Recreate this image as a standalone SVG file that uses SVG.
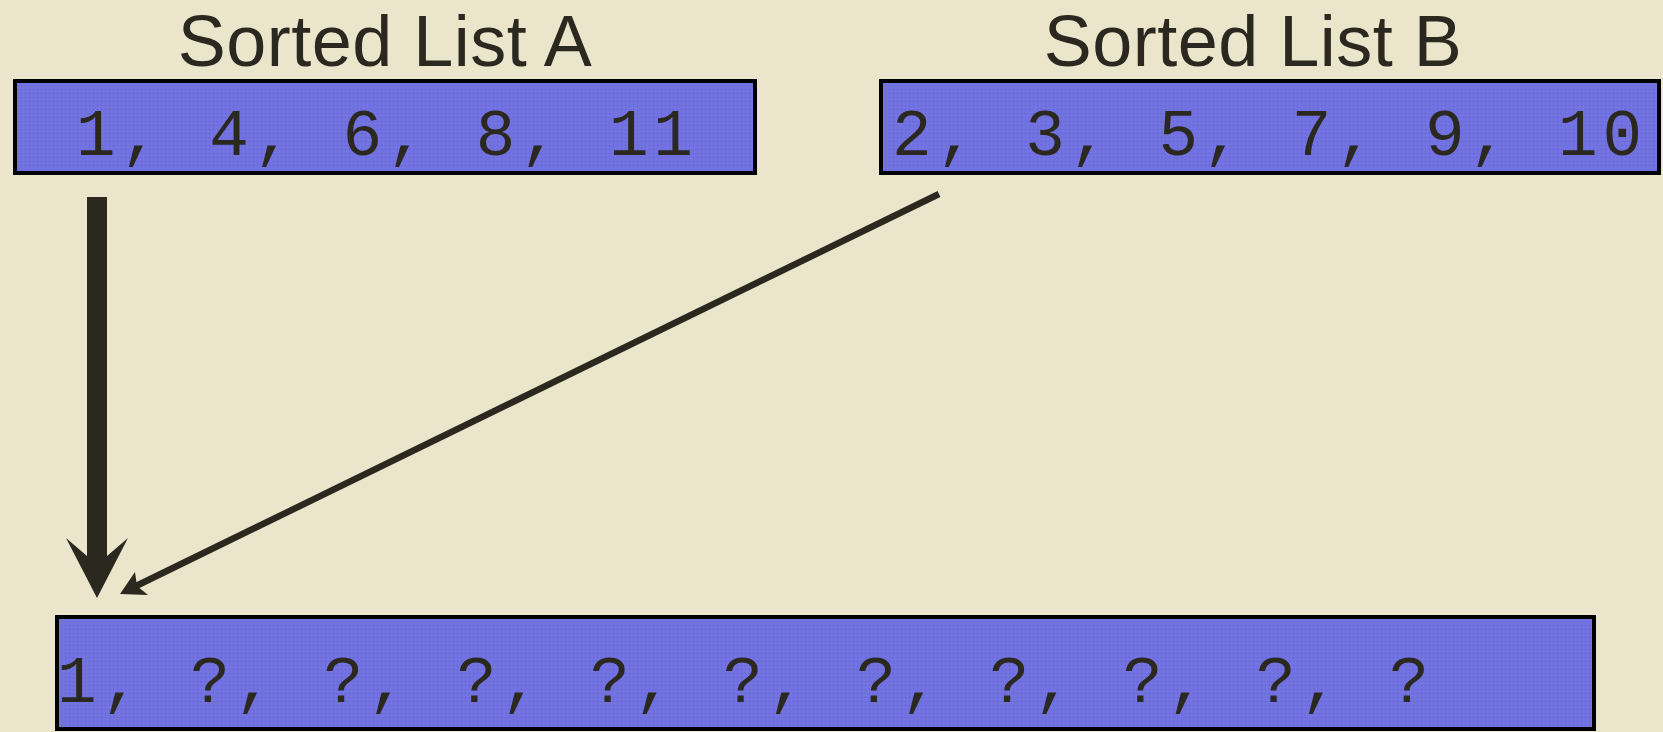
<svg xmlns="http://www.w3.org/2000/svg" width="1663" height="732" viewBox="0 0 1663 732">
<defs>
<pattern id="dots" width="4" height="4" patternUnits="userSpaceOnUse">
<rect width="4" height="4" fill="#7373E0"/>
<rect x="1" y="1" width="1" height="1" fill="#5B5BF2"/>
</pattern>
<style>
.box{fill:url(#dots);stroke:#000;stroke-width:4}
.title{font-family:"Liberation Sans",Arial,sans-serif;font-size:72px;fill:#2B2820;text-anchor:middle;letter-spacing:0.5px}
.mono{font-family:"Liberation Mono","Courier New",monospace;font-size:66px;letter-spacing:4.8px;fill:#2B2820}
.conn{stroke:#2B2820;fill:none}
.head{fill:#2B2820}
</style>
</defs>
<rect width="1663" height="732" fill="#EBE6CB"/>
<g id="listA">
<text class="title" x="385" y="66">Sorted List A</text>
<rect class="box" x="15" y="81" width="740" height="92"/>
<text class="mono" x="76" y="155" xml:space="preserve">1, 4, 6, 8, 11</text>
</g>
<g id="listB">
<text class="title" x="1253" y="66">Sorted List B</text>
<rect class="box" x="881" y="81" width="778" height="92"/>
<text class="mono" x="892" y="155" xml:space="preserve">2, 3, 5, 7, 9, 10</text>
</g>
<g id="merged">
<rect class="box" x="57" y="617" width="1537" height="112"/>
<text class="mono" x="57" y="702" xml:space="preserve">1, ?, ?, ?, ?, ?, ?, ?, ?, ?, ?</text>
</g>
<g id="connectors">
<line class="conn" x1="97" y1="197" x2="97" y2="558" stroke-width="20"/>
<polygon class="head" points="97,598 66,538 87,556 107,556 128,538"/>
<line class="conn" x1="939" y1="194" x2="134" y2="587" stroke-width="6.5"/>
<polygon class="head" points="120,594 135,572 137,586 148,595"/>
</g>
</svg>
